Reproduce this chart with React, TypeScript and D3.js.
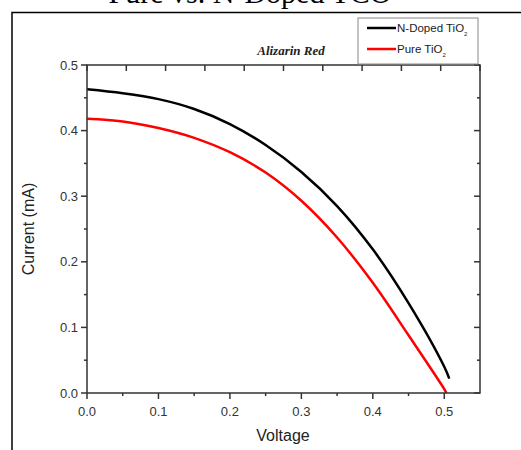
import React from "react";
import { scaleLinear, line, curveCatmullRom, range } from "d3";

// voltage (V) vs current (mA)
const voltage = [0, 0.05, 0.1, 0.15, 0.2, 0.25, 0.3, 0.35, 0.4, 0.45, 0.5];
const dopedCurrent = [0.463, 0.457, 0.448, 0.433, 0.41, 0.378, 0.337, 0.285, 0.219, 0.137, 0.04];
const pureCurrent = [0.418, 0.414, 0.404, 0.389, 0.367, 0.336, 0.293, 0.237, 0.168, 0.088, 0.006];
const dopedEnd = [0.507, 0.022];
const pureEnd = [0.503, 0.0];

const xTicks = [0, 0.1, 0.2, 0.3, 0.4, 0.5];
const yTicks = [0, 0.1, 0.2, 0.3, 0.4, 0.5];

const W = 521;
const H = 450;
const margin = { left: 87, right: 41, top: 65, bottom: 57 };

const axisColor = "#333";
const sans = "'Liberation Sans', Arial, sans-serif";
const serif = "'Liberation Serif', 'Times New Roman', serif";

const App = () => {
  const xScale = scaleLinear().domain([0, 0.55]).range([margin.left, W - margin.right]);
  const yScale = scaleLinear().domain([0, 0.5]).range([H - margin.bottom, margin.top]);

  const x0 = xScale(0), x1 = xScale(0.55);
  const y0 = yScale(0), y1 = yScale(0.5);

  const myLine = line<number[]>()
    .x((d) => xScale(d[0]))
    .y((d) => yScale(d[1]))
    .curve(curveCatmullRom.alpha(0.5));

  const doped = voltage.map((v, i) => [v, dopedCurrent[i]]).concat([dopedEnd]);
  const pure = voltage.map((v, i) => [v, pureCurrent[i]]).concat([pureEnd]);

  const xMinor = range(0.05, 0.55, 0.1);
  const yMinor = range(0.05, 0.5, 0.1);
  // top axis has its own 10 even divisions
  const topTicks = range(0, 11).map((i) => x0 + ((x1 - x0) * i) / 10);

  return (
    <svg width={W} height={H} style={{ position: "absolute", left: 0, top: 0, background: "#fff" }}>
      {/* title, mostly cut off at the top */}
      <text x={250} y={3} textAnchor="middle" fontFamily={serif} fontSize={30} fill="#000">
        Pure vs. N-Doped TCO
      </text>
      {/* outer frame */}
      <path d={`M12,${H} L12,12.5 L${W + 2},12.5`} fill="none" stroke="#000" strokeWidth={1.5} />

      {/* curves */}
      <path d={myLine(doped) || ""} fill="none" stroke="#000" strokeWidth={2.5} />
      <path d={myLine(pure) || ""} fill="none" stroke="#ff0000" strokeWidth={2.5} />

      {/* frame of the plot */}
      <rect x={x0} y={y1} width={x1 - x0} height={y0 - y1} fill="none" stroke={axisColor} strokeWidth={1.5} />

      {/* bottom axis */}
      {xTicks.map((t) => (
        <g key={"xt" + t}>
          <line x1={xScale(t)} x2={xScale(t)} y1={y0} y2={y0 + 6} stroke={axisColor} strokeWidth={1.5} />
          <text x={xScale(t)} y={y0 + 23} textAnchor="middle" fontFamily={sans} fontSize={13} fill={axisColor}>
            {t.toFixed(1)}
          </text>
        </g>
      ))}
      {xMinor.map((t) => (
        <line key={"xm" + t} x1={xScale(t)} x2={xScale(t)} y1={y0} y2={y0 + 3} stroke={axisColor} strokeWidth={1.5} />
      ))}

      {/* top axis ticks */}
      {topTicks.map((x, i) => (
        <line key={"tt" + i} x1={x} x2={x} y1={y1} y2={y1 + 6} stroke={axisColor} strokeWidth={1.5} />
      ))}

      {/* left axis, mirrored ticks on the right */}
      {yTicks.map((t) => (
        <g key={"yt" + t}>
          <line x1={x0 - 6} x2={x0} y1={yScale(t)} y2={yScale(t)} stroke={axisColor} strokeWidth={1.5} />
          <text x={x0 - 9} y={yScale(t) + 4.5} textAnchor="end" fontFamily={sans} fontSize={13} fill={axisColor}>
            {t.toFixed(1)}
          </text>
          <line x1={x1 - 6} x2={x1} y1={yScale(t)} y2={yScale(t)} stroke={axisColor} strokeWidth={1.5} />
        </g>
      ))}
      {yMinor.map((t) => (
        <g key={"ym" + t}>
          <line x1={x0 - 3} x2={x0} y1={yScale(t)} y2={yScale(t)} stroke={axisColor} strokeWidth={1.5} />
          <line x1={x1 - 3} x2={x1} y1={yScale(t)} y2={yScale(t)} stroke={axisColor} strokeWidth={1.5} />
        </g>
      ))}

      {/* axis titles */}
      <text x={283} y={441} textAnchor="middle" fontFamily={sans} fontSize={16} fill="#222">
        Voltage
      </text>
      <text
        transform={`translate(34,${(y0 + y1) / 2}) rotate(-90)`}
        textAnchor="middle"
        fontFamily={sans}
        fontSize={16}
        fill="#222"
      >
        Current (mA)
      </text>

      {/* annotation */}
      <text x={291} y={55} textAnchor="middle" fontFamily={serif} fontSize={13} fontWeight="bold" fontStyle="italic" fill="#222">
        Alizarin Red
      </text>

      {/* legend */}
      <rect x={358} y={18} width={120} height={46} fill="#fff" stroke="#888" strokeWidth={1} />
      <line x1={367} x2={396} y1={28} y2={28} stroke="#000" strokeWidth={2.5} />
      <text x={397} y={32} fontFamily={sans} fontSize={11.5} fill="#222">
        N-Doped TiO<tspan fontSize={6} dy={4}>2</tspan>
      </text>
      <line x1={367} x2={396} y1={49} y2={49} stroke="#ff0000" strokeWidth={2.5} />
      <text x={397} y={53} fontFamily={sans} fontSize={11.5} fill="#222">
        Pure TiO<tspan fontSize={6} dy={4}>2</tspan>
      </text>
    </svg>
  );
};

export default App;
